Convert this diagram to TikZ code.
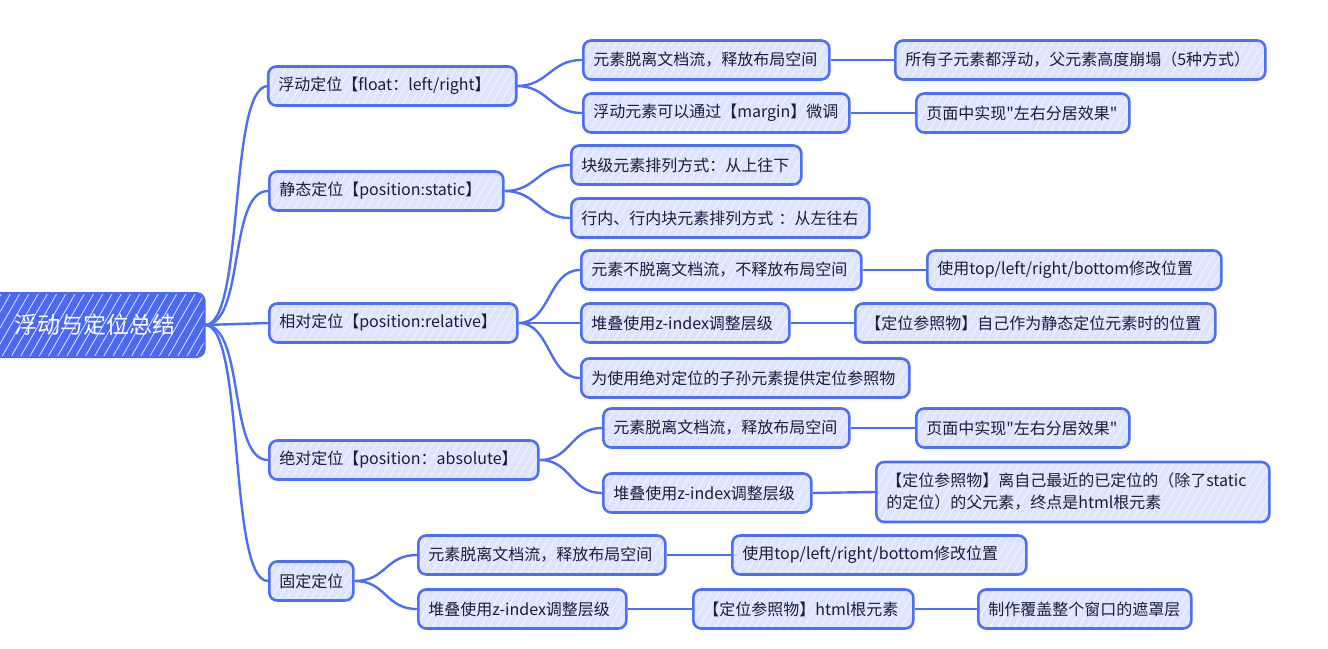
\documentclass[tikz,border=0pt]{standalone}
\usepackage{fontspec}
\setmainfont{Noto Sans CJK SC}[Ligatures=TeXOff]
\usetikzlibrary{patterns.meta}
\definecolor{bd}{HTML}{4D6EF5}
\definecolor{bx}{HTML}{DEE4FD}
\definecolor{tx}{HTML}{1B1B3B}
\definecolor{rootc}{HTML}{4A68F4}
\tikzset{
  box/.style={draw=bd, line width=2.6pt, rounded corners=8pt,
    preaction={fill=bx},
    pattern={Lines[angle=60,distance=7pt,line width=0.5pt]}, pattern color=white,
    minimum height=39pt, inner xsep=10pt, inner ysep=0pt, text=tx, anchor=west,
    text width=#1, align=left,
    font=\fontsize{16}{22}\selectfont},
  rootbox/.style={draw=rootc, line width=2pt, rounded corners=8pt,
    preaction={fill=rootc},
    pattern={Lines[angle=60,distance=8pt,line width=0.8pt]}, pattern color=white!85!rootc,
    minimum height=64pt, minimum width=220pt, inner sep=0pt, text=white, anchor=east,
    font=\fontsize{23}{28}\selectfont},
  link/.style={draw=bd, line width=2.4pt},
}
\newcommand{\cv}[2]{\path[link] (#1.east) .. controls +(32pt,0) and +(-32pt,0) .. (#2.west);}
\begin{document}
\begin{tikzpicture}[x=1pt,y=-1pt]
\useasboundingbox (0,0) rectangle (1328,648);
\clip (0,0) rectangle (1328,648);
% root
\node[rootbox] (root) at (205,325) {浮动与定位总结};
% level 1
\node[box=228pt] (fl) at (268,86) {浮动定位【float：left/right】};
\node[box=214pt] (st) at (268,191) {静态定位【position:static】};
\node[box=228pt] (re) at (268,323) {相对定位【position:relative】};
\node[box=249pt] (ab) at (268,460) {绝对定位【position：absolute】};
\node[box=64pt] (fx) at (268,581) {固定定位};
% level 2
\node[box=226pt] (f1) at (582,60) {元素脱离文档流，释放布局空间};
\node[box=246pt] (f2) at (582,113) {浮动元素可以通过【margin】微调};
\node[box=210pt] (s1) at (570,165) {块级元素排列方式：从上往下};
\node[box=278pt] (s2) at (570,218) {行内、行内块元素排列方式 ：从左往右};
\node[box=260pt] (r1) at (580,270) {元素不脱离文档流，不释放布局空间};
\node[box=188pt] (r2) at (580,323) {堆叠使用z-index调整层级};
\node[box=308pt] (r3) at (580,378) {为使用绝对定位的子孙元素提供定位参照物};
\node[box=226pt] (a1) at (602,428) {元素脱离文档流，释放布局空间};
\node[box=188pt] (a2) at (602,493) {堆叠使用z-index调整层级};
\node[box=227pt] (g1) at (417,555) {元素脱离文档流，释放布局空间};
\node[box=188pt] (g2) at (417,609) {堆叠使用z-index调整层级};
% level 3
\node[box=350pt] (f1a) at (894,60) {所有子元素都浮动，父元素高度崩塌（5种方式）};
\node[box=193pt] (f2a) at (915,113) {页面中实现"左右分居效果"};
\node[box=274pt] (r1a) at (926,270) {使用top/left/right/bottom修改位置};
\node[box=340pt] (r2a) at (854,323) {【定位参照物】自己作为静态定位元素时的位置};
\node[box=193pt] (a1a) at (915,428) {页面中实现"左右分居效果"};
\node[box=373pt, minimum height=60pt] (a2a) at (875,492) {【定位参照物】离自己最近的已定位的（除了static\\的定位）的父元素，终点是html根元素};
\node[box=274pt] (g1a) at (731,555) {使用top/left/right/bottom修改位置};
\node[box=200pt] (g2a) at (692,609) {【定位参照物】html根元素};
\node[box=193pt] (g2b) at (977,609) {制作覆盖整个窗口的遮罩层};
% connectors
\path[link] (root.east) .. controls +(40pt,0) and +(-40pt,0) .. (fl.west);
\path[link] (root.east) .. controls +(40pt,0) and +(-40pt,0) .. (st.west);
\path[link] (root.east) -- (re.west);
\path[link] (root.east) .. controls +(40pt,0) and +(-40pt,0) .. (ab.west);
\path[link] (root.east) .. controls +(40pt,0) and +(-40pt,0) .. (fx.west);
\cv{fl}{f1}
\cv{fl}{f2}
\cv{st}{s1}
\cv{st}{s2}
\cv{re}{r1}
\path[link] (re.east) -- (r2.west);
\cv{re}{r3}
\cv{ab}{a1}
\cv{ab}{a2}
\cv{fx}{g1}
\cv{fx}{g2}
\path[link] (f1.east) -- (f1a.west);
\path[link] (f2.east) -- (f2a.west);
\path[link] (r1.east) -- (r1a.west);
\path[link] (r2.east) -- (r2a.west);
\path[link] (a1.east) -- (a1a.west);
\path[link] (a2.east) -- (a2a.west);
\path[link] (g1.east) -- (g1a.west);
\path[link] (g2.east) -- (g2a.west);
\path[link] (g2a.east) -- (g2b.west);
\end{tikzpicture}
\end{document}
